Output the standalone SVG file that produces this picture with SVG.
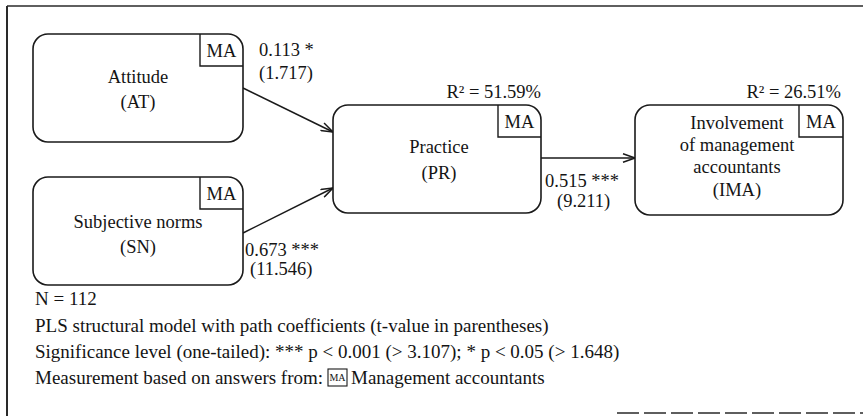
<svg xmlns="http://www.w3.org/2000/svg" width="863" height="416" viewBox="0 0 863 416">
  <style>
    text { font-family: "Liberation Serif", "Times New Roman", serif; font-size: 18.5px; fill: #141414; }
    .mid { text-anchor: middle; }
    .end { text-anchor: end; }
    .note { font-size: 19px; }
    .node { fill: #ffffff; stroke: #1a1a1a; stroke-width: 1.6; }
    .tag { fill: none; stroke: #1a1a1a; stroke-width: 1.4; }
    .edge { fill: none; stroke: #1a1a1a; stroke-width: 1.5; }
    .frame { fill: none; stroke: #2a2a2a; }
  </style>
  <defs>
    <marker id="open-arrow" viewBox="0 0 14 10" refX="13" refY="5" markerWidth="14" markerHeight="10" markerUnits="userSpaceOnUse" orient="auto">
      <path d="M1,0.8 L13,5 L1,9.2" fill="none" stroke="#1a1a1a" stroke-width="1.5"/>
    </marker>
  </defs>

  <rect width="863" height="416" fill="#ffffff"/>

  <!-- outer frame -->
  <g id="frame">
    <line class="frame" x1="7" y1="6" x2="7" y2="416" stroke-width="2"/>
    <line class="frame" x1="7" y1="6" x2="863" y2="6" stroke-width="1.4" stroke="#555"/>
    <line class="frame" x1="617" y1="413" x2="863" y2="413" stroke-width="1.6" stroke="#888" stroke-dasharray="22 5"/>
  </g>

  <!-- connectors -->
  <g id="connectors">
    <line class="edge" x1="243" y1="88" x2="333" y2="132" marker-end="url(#open-arrow)"/>
    <line class="edge" x1="243" y1="233" x2="333" y2="188" marker-end="url(#open-arrow)"/>
    <line class="edge" x1="541" y1="158" x2="635" y2="158" marker-end="url(#open-arrow)"/>
    <text x="259" y="56">0.113 *</text>
    <text x="259" y="79">(1.717)</text>
    <text x="245" y="256">0.673 ***</text>
    <text x="250" y="275">(11.546)</text>
    <text x="545" y="187">0.515 ***</text>
    <text x="557" y="207">(9.211)</text>
  </g>

  <!-- Attitude -->
  <g id="node-at">
    <rect class="node" x="33" y="34" width="210" height="108" rx="15" ry="15"/>
    <path class="tag" d="M200,34 V66 H243"/>
    <text class="mid" x="221.5" y="57">MA</text>
    <text class="mid" x="138" y="83">Attitude</text>
    <text class="mid" x="138" y="108">(AT)</text>
  </g>

  <!-- Subjective norms -->
  <g id="node-sn">
    <rect class="node" x="33" y="177" width="210" height="108" rx="15" ry="15"/>
    <path class="tag" d="M200,177 V209 H243"/>
    <text class="mid" x="221.5" y="200">MA</text>
    <text class="mid" x="138" y="228">Subjective norms</text>
    <text class="mid" x="138" y="253">(SN)</text>
  </g>

  <!-- Practice -->
  <g id="node-pr">
    <rect class="node" x="333" y="105" width="208" height="108" rx="15" ry="15"/>
    <path class="tag" d="M498,105 V137 H541"/>
    <text class="mid" x="519.5" y="128">MA</text>
    <text class="mid" x="439" y="153">Practice</text>
    <text class="mid" x="439" y="179">(PR)</text>
    <text class="end" x="541" y="98">R² = 51.59%</text>
  </g>

  <!-- Involvement of management accountants -->
  <g id="node-ima">
    <rect class="node" x="635" y="105" width="208" height="110" rx="15" ry="15"/>
    <path class="tag" d="M799,105 V137 H843"/>
    <text class="mid" x="821" y="128">MA</text>
    <text class="mid" x="737" y="129">Involvement</text>
    <text class="mid" x="737" y="151">of management</text>
    <text class="mid" x="737" y="173">accountants</text>
    <text class="mid" x="737" y="196">(IMA)</text>
    <text class="end" x="841" y="98">R² = 26.51%</text>
  </g>

  <!-- notes -->
  <g id="notes">
    <text class="note" x="35" y="305">N = 112</text>
    <text class="note" x="35" y="332">PLS structural model with path coefficients (t-value in parentheses)</text>
    <text class="note" x="35" y="358">Significance level (one-tailed): *** p &lt; 0.001 (&gt; 3.107); * p &lt; 0.05 (&gt; 1.648)</text>
    <text class="note" x="35" y="384">Measurement based on answers from:</text>
    <rect x="328" y="369" width="19" height="17" fill="none" stroke="#1a1a1a" stroke-width="1.1"/>
    <text class="mid" x="337.5" y="381" style="font-size:10px">MA</text>
    <text class="note" x="351" y="384">Management accountants</text>
  </g>
</svg>
